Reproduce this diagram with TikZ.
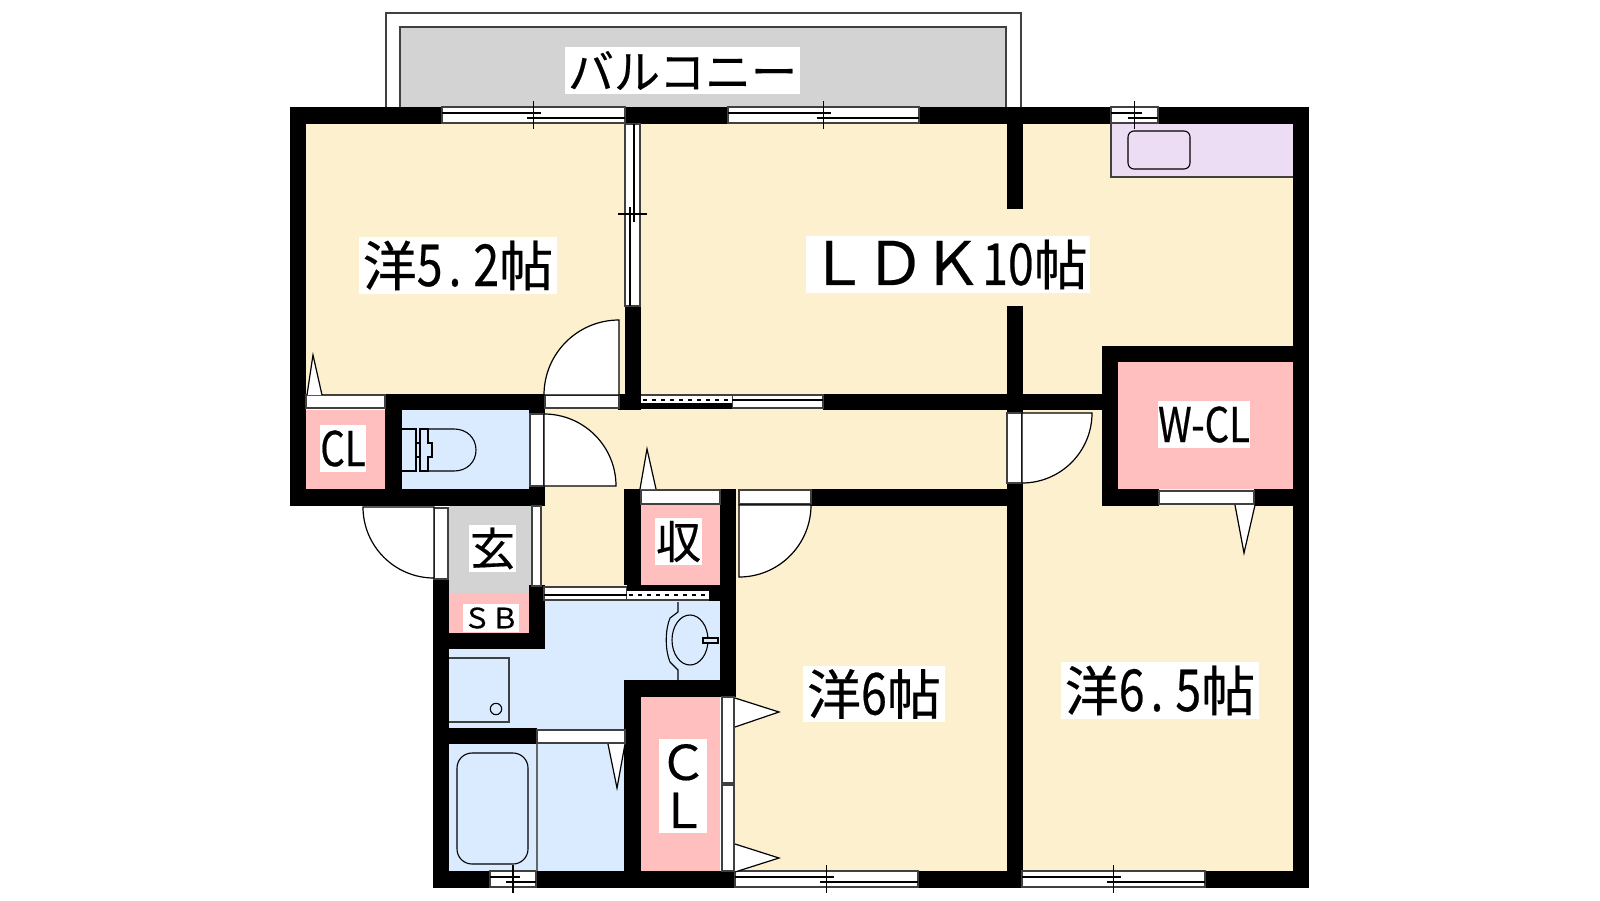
\documentclass[tikz,border=0pt]{standalone}
\usepackage{fontspec}
\setmainfont[FakeBold=0.4]{Noto Sans CJK JP}
\newfontfamily\halffont[FakeStretch=0.8,FakeBold=0.4]{Noto Sans CJK JP}
\newcommand{\hw}[1]{{\halffont\fontsize{58}{58}\selectfont #1}}
\definecolor{creamfloor}{HTML}{FDF0CE}
\definecolor{pinkfloor}{HTML}{FFBFBF}
\definecolor{bluefloor}{HTML}{DAEBFF}
\definecolor{greyfloor}{HTML}{D3D3D3}
\definecolor{lilacfloor}{HTML}{ECDDF5}
\tikzset{
  wall/.style={fill=black},
  strip/.style={fill=white,draw=black!75,line width=1.2pt},
  fixture/.style={draw=black,line width=1.1pt},
  swing/.style={fill=white,draw=black,line width=1.2pt},
  word/.style={fill=white,inner sep=0pt,font=\fontsize{54}{54}\selectfont}
}
\begin{document}
\begin{tikzpicture}[x=1pt,y=-1pt]
  \useasboundingbox (0,0) rectangle (1600,900);
  \fill[white] (0,0) rectangle (1600,900);

  % balcony
  \fill[greyfloor] (400,27) rectangle (1006,107);
  \draw[draw=black!75,line width=1.2pt] (386,107) -- (386,13) -- (1021,13) -- (1021,107);
  \draw[draw=black!75,line width=1.2pt] (400,107) -- (400,27) -- (1006,27) -- (1006,107);

  % floors
  \foreach \xa/\ya/\xb/\yb in {306/124/1293/394,545/394/1293/871,541/506/624/587}
    \fill[creamfloor] (\xa,\ya) rectangle (\xb,\yb);
  \foreach \xa/\ya/\xb/\yb in {449/600/720/680,449/680/624/871,402/410/529/489}
    \fill[bluefloor] (\xa,\ya) rectangle (\xb,\yb);
  \foreach \xa/\ya/\xb/\yb in {306/410/385/489,1118/362/1293/489,641/505/720/585,641/697/720/871,449/594/529/633}
    \fill[pinkfloor] (\xa,\ya) rectangle (\xb,\yb);
  \fill[greyfloor] (449,506) rectangle (532,594);
  \fill[lilacfloor] (1111,124) rectangle (1293,177);
  \fill[white] (720,697) rectangle (735,871);
  \draw[draw=black!75,line width=1.2pt] (1111,124) -- (1111,177) -- (1293,177);
  \draw[fixture,rounded corners=6pt] (1128,131) rectangle (1190,169);

  % walls
  \foreach \xa/\ya/\xb/\yb in {290/107/442/124,625/107/728/124,919/107/1111/124,1158/107/1309/124,
    290/107/306/506,1293/107/1309/888,385/394/545/410,385/394/402/506,290/489/545/506,529/394/545/414,
    529/486/545/489,618/394/641/410,625/306/641/410,823/394/1102/410,1007/124/1023/209,1007/306/1023/413,1007/483/1023/888,
    1102/346/1309/362,1102/346/1118/506,1102/489/1159/506,1254/489/1309/506,811/489/1007/506,
    624/489/641/585,720/489/736/697,709/585/736/601,433/579/449/888,433/871/490/888,536/871/735/888,
    918/871/1022/888,1205/871/1309/888,529/585/545/649,449/633/545/649,624/680/736/697,624/680/641/871,449/728/537/744}
    \fill[wall] (\xa,\ya) rectangle (\xb,\yb);

  % door leaves in the walls
  \foreach \xa/\ya/\xb/\yb in {306/395/385/408,545/395/619/408,530/414/544/486,434/508/448/579,532/506/541/586,
    641/490/720/504,739/490/811/504,1007/413/1022/483,1159/491/1254/504,537/730/625/743,722/697/734/783,722/785/734/871}
    \draw[strip] (\xa,\ya) rectangle (\xb,\yb);

  % windows
  \foreach \xa/\xb/\ya in {442/625/107,728/919/107,1111/1158/107,490/536/871,735/918/871,1022/1205/871}{
    \pgfmathsetmacro\xc{(\xa+\xb)/2}
    \pgfmathsetmacro\yb{\ya+16}
    \draw[strip] (\xa,\ya) rectangle (\xb,\yb);
    \draw[fixture] (\xa,\ya+6) -- (\xc+7,\ya+6);
    \draw[fixture] (\xc-7,\ya+11) -- (\xb,\ya+11);
    \draw[fixture] (\xc,\ya-6) -- (\xc,\yb+6);
  }
  \draw[strip] (625,124) rectangle (640,306);
  \draw[fixture] (634,124) -- (634,222);
  \draw[fixture] (630,207) -- (630,306);
  \draw[fixture] (618,214) -- (647,214);

  % sliding doors
  \draw[strip] (732,395) rectangle (823,408);
  \draw[fixture] (732,400) -- (823,400);
  \fill[wall] (641,403) rectangle (732,409);
  \fill[white] (641,395) rectangle (732,403);
  \draw[draw=black!75,line width=1.2pt] (641,395) -- (732,395);
  \draw[draw=black,line width=1.6pt,dash pattern=on 4pt off 5pt] (643,400) -- (731,400);
  \draw[strip] (544,587) rectangle (627,600);
  \draw[fixture] (544,595) -- (627,595);
  \fill[wall] (627,585) rectangle (709,591);
  \fill[white] (627,591) rectangle (709,600);
  \draw[draw=black!75,line width=1.2pt] (627,600) -- (709,600);
  \draw[draw=black,line width=1.6pt,dash pattern=on 4pt off 5pt] (629,595) -- (708,595);

  % swing doors
  \draw[swing] (619,395) -- (544,395) arc[start angle=180,end angle=90,radius=75pt] -- cycle;
  \draw[swing] (544,486) -- (544,414) arc[start angle=90,end angle=0,radius=72pt] -- cycle;
  \draw[swing] (434,507) -- (363,507) arc[start angle=180,end angle=270,radius=71pt] -- cycle;
  \draw[swing] (1022,413) -- (1092,413) arc[start angle=0,end angle=-90,radius=70pt] -- cycle;
  \draw[swing] (739,505) -- (811,505) arc[start angle=0,end angle=-90,radius=72pt] -- cycle;

  % door marks
  \foreach \xa/\ya/\xb/\yb/\xc/\yc in {307/395/313/355/322/395,640/489/647/449/656/489,1235/505/1244/553/1255/505,
    608/744/617/788/625/744,735/698/779/712/735/727,735/844/779/858/735/872}
    \draw[swing] (\xa,\ya) -- (\xb,\yb) -- (\xc,\yc);

  % toilet
  \draw[fixture] (402,429) -- (416,429) -- (416,471) -- (402,471);
  \draw[fixture] (416,443) -- (420,443) (416,457) -- (420,457);
  \draw[fixture] (428,429) -- (420,429) -- (420,471) -- (428,471) -- (428,457) -- (432,457) -- (432,443) -- (428,443) -- cycle;
  \draw[fixture] (428,429) -- (454,429) .. controls (467,429) and (476,438) .. (476,450) .. controls (476,462) and (467,471) .. (454,471) -- (428,471);

  % wash basin
  \draw[fixture] (678,602) -- (678,612) -- (670,618) .. controls (665,630) and (665,650) .. (670,662) -- (678,670) -- (678,680);
  \draw[fixture] (690,640) ellipse [x radius=18pt,y radius=25pt];
  \draw[fixture,fill=bluefloor] (703,638) rectangle (718,643);

  % washer pan and bath
  \draw[draw=black!75,line width=1.2pt] (449,658) -- (509,658) -- (509,722) -- (449,722);
  \draw[fixture] (496,709) circle (5.7pt);
  \draw[draw=black!60,line width=1.2pt] (537,744) -- (537,871);
  \draw[fixture,rounded corners=15pt] (457,753) rectangle (528,864);

  % labels
  \node[word,minimum width=235pt,minimum height=47pt,font=\fontsize{46}{46}\selectfont] (nBalcony) at (682.5,70.5) {バルコニー};
  \node[word,minimum width=198pt,minimum height=57pt] (nWest) at (458,265.5) {洋\hw{5\hspace{6pt}.\hspace{12pt}2}帖};
  \node[word,minimum width=284pt,minimum height=57pt] (nLiving) at (948,264.5) {{\fontsize{60}{60}\selectfont Ｌ\hspace{-3pt}Ｄ\hspace{-3pt}Ｋ}\hw{10}帖};
  \node[word,minimum width=142pt,minimum height=56pt] (nSouth) at (874,694) {洋\hw{6}帖};
  \node[word,minimum width=198pt,minimum height=57pt] (nEast) at (1160,690.5) {洋\hw{6\hspace{6pt}.\hspace{12pt}5}帖};
  \node[word,minimum width=92pt,minimum height=47pt,font=\halffont\fontsize{48}{48}\selectfont] (nWalkin) at (1204,424.5) {W-CL};
  \node[word,minimum width=46pt,minimum height=47pt,font=\halffont\fontsize{48}{48}\selectfont] (nCloset) at (343,448.5) {CL};
  \node[word,minimum width=47pt,minimum height=47pt,font=\fontsize{45}{45}\selectfont] (nEntry) at (492.5,548.5) {玄};
  \node[word,minimum width=47pt,minimum height=47pt,font=\fontsize{45}{45}\selectfont] (nStore) at (678.5,541.5) {収};
  \node[word,minimum width=56pt,minimum height=28pt,font=\fontsize{28}{28}\selectfont] (nShoe) at (491,618) {ＳＢ};
  \node[word,minimum width=48pt,minimum height=94pt,font=\fontsize{48}{48}\selectfont,align=center] (nCloth) at (683,786) {Ｃ\\Ｌ};
\end{tikzpicture}
\end{document}
